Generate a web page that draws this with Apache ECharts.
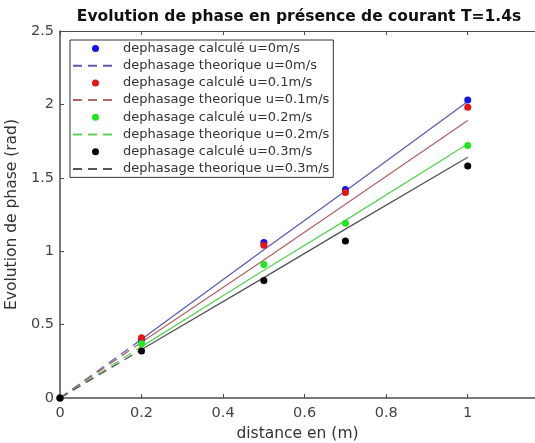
<!DOCTYPE html>
<html lang="fr">
<head>
    <meta charset="UTF-8">
    <title>Evolution de phase</title>
    <script src="https://cdn.jsdelivr.net/npm/echarts@6/dist/echarts.min.js"></script>
    <style>
        html, body { margin: 0; padding: 0; background: #fff; }
        #container { width: 535px; height: 443px; }
    </style>
</head>
<body>
    <div id="container"></div>
    <script>
        var distances = [0, 0.2, 0.5, 0.7, 1];
        var calcU0 = [0, 0.40, 1.06, 1.42, 2.03];
        var calcU01 = [0, 0.41, 1.04, 1.40, 1.98];
        var calcU02 = [0, 0.37, 0.91, 1.19, 1.72];
        var calcU03 = [0, 0.32, 0.80, 1.07, 1.58];

        // courbes theoriques aux memes abscisses
        var theoU0 = [0, 0.40, 1.01, 1.41, 2.02];
        var theoU01 = [0, 0.38, 0.94, 1.32, 1.89];
        var theoU02 = [0, 0.35, 0.87, 1.21, 1.73];
        var theoU03 = [0, 0.33, 0.82, 1.15, 1.64];

        var speeds = ['0', '0.1', '0.2', '0.3'];
        var dotColors = ['#1414e6', '#e61414', '#1fe61f', '#000000'];
        var lineColors = ['#5c5cb4', '#b46464', '#5ad25a', '#555555'];
        var xTicks = [0, 0.2, 0.4, 0.6, 0.8, 1];

        paint();

        function paint() {
            var myChart = echarts.init(document.getElementById('container'));
            var calc = [calcU0, calcU01, calcU02, calcU03];
            var theo = [theoU0, theoU01, theoU02, theoU03];
            var series = [];
            var legendNames = [];

            speeds.forEach(function (u, i) {
                var calcName = 'dephasage calculé u=' + u + 'm/s';
                var theoName = 'dephasage theorique u=' + u + 'm/s';
                legendNames.push(calcName, theoName);
                var pts = distances.map(function (d, k) { return [d, calc[i][k]]; });
                var tpts = distances.map(function (d, k) { return [d, theo[i][k]]; });
                series.push({
                    name: calcName,
                    type: 'scatter',
                    data: pts,
                    symbol: 'circle',
                    symbolSize: 7,
                    itemStyle: { color: dotColors[i], opacity: 1 },
                    z: 5
                });
                // partie en tirets pres de l'origine
                series.push({
                    name: theoName,
                    type: 'line',
                    data: tpts.slice(0, 2),
                    symbol: 'none',
                    lineStyle: { color: lineColors[i], width: 1.3, type: [9, 6] },
                    itemStyle: { color: 'rgba(0,0,0,0)' },
                    z: 3
                });
                // le reste de la courbe apparait continu
                series.push({
                    name: theoName + ' ',
                    type: 'line',
                    data: tpts.slice(1),
                    symbol: 'none',
                    lineStyle: { color: lineColors[i], width: 1.3, type: 'solid' },
                    itemStyle: { color: 'rgba(0,0,0,0)' },
                    z: 3
                });
            });

            var axisColor = '#4d4d4d';
            var labelStyle = { color: '#444', fontSize: 14.5, fontFamily: 'DejaVu Sans' };

            var option = {
                backgroundColor: '#ffffff',
                animation: false,
                title: {
                    text: 'Evolution de phase en présence de courant T=1.4s',
                    left: 294,
                    top: 4,
                    textAlign: 'center',
                    textStyle: {
                        fontFamily: 'DejaVu Sans',
                        fontWeight: 'bold',
                        fontSize: 15.5,
                        color: '#111'
                    }
                },
                legend: {
                    data: legendNames,
                    orient: 'vertical',
                    left: 70,
                    top: 40,
                    itemWidth: 45,
                    itemHeight: 7,
                    itemGap: 4.2,
                    padding: [2, 4, 2, 2],
                    borderColor: '#333',
                    borderWidth: 1,
                    backgroundColor: '#fff',
                    selectedMode: false,
                    textStyle: { color: '#333', fontSize: 13, fontFamily: 'DejaVu Sans' }
                },
                grid: {
                    left: 60,
                    right: 0,
                    top: 31,
                    bottom: 45,
                    outerBoundsMode: 'none',
                    containLabel: false
                },
                xAxis: [{
                    type: 'value',
                    min: 0,
                    max: 1.165,
                    interval: 0.2,
                    name: 'distance en (m)',
                    nameLocation: 'middle',
                    nameGap: 27,
                    nameTextStyle: { color: '#333', fontSize: 15.5, fontFamily: 'DejaVu Sans' },
                    axisLine: { show: true, lineStyle: { color: axisColor, width: 1.5 } },
                    axisTick: { show: true, inside: true, length: 4, customValues: xTicks, lineStyle: { color: axisColor } },
                    axisLabel: Object.assign({ margin: 8, customValues: xTicks }, labelStyle),
                    splitLine: { show: false }
                }, {
                    type: 'value',
                    position: 'top',
                    min: 0,
                    max: 1.165,
                    interval: 0.2,
                    axisLine: { show: true, lineStyle: { color: axisColor, width: 1 } },
                    axisTick: { show: true, inside: true, length: 4, customValues: xTicks, lineStyle: { color: axisColor } },
                    axisLabel: { show: false },
                    splitLine: { show: false }
                }],
                yAxis: {
                    type: 'value',
                    min: 0,
                    max: 2.5,
                    interval: 0.5,
                    name: 'Evolution de phase (rad)',
                    nameLocation: 'middle',
                    nameGap: 29,
                    nameTextStyle: { color: '#333', fontSize: 15.5, fontFamily: 'DejaVu Sans' },
                    axisLine: { show: true, lineStyle: { color: axisColor, width: 1.5 } },
                    axisTick: { show: true, inside: true, length: 4, lineStyle: { color: axisColor } },
                    axisLabel: Object.assign({ margin: 6 }, labelStyle),
                    splitLine: { show: false }
                },
                series: series
            };
            myChart.setOption(option);
        }
    </script>
</body>
</html>
